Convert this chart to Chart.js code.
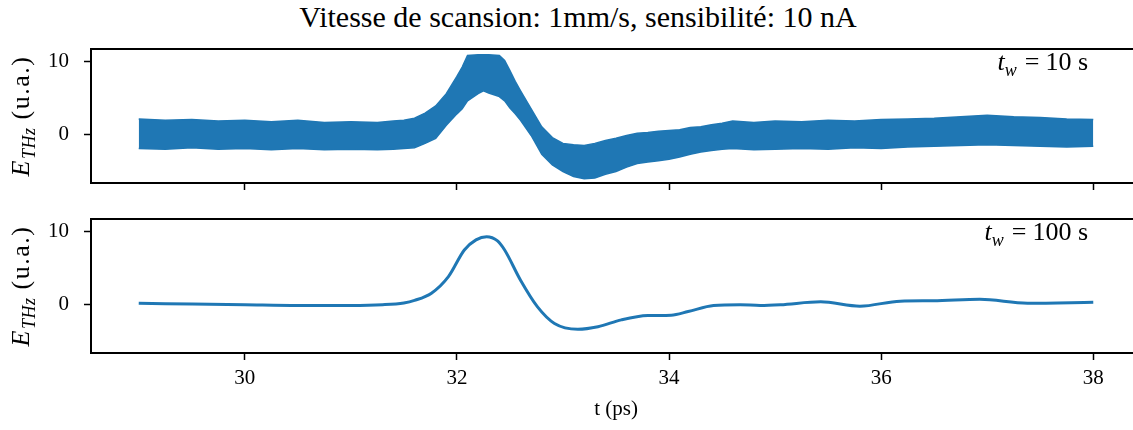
<!DOCTYPE html>
<html>
<head>
<meta charset="utf-8">
<script src="https://cdn.jsdelivr.net/npm/chart.js@4.4.0/dist/chart.umd.min.js"></script>
<style>
  html, body { margin: 0; padding: 0; background: #fff; }
  body { width: 1133px; height: 430px; overflow: hidden; position: relative;
         font-family: "Liberation Serif", "DejaVu Serif", serif; color: #000; }
  .panel { position: absolute; left: 0; }
  #title { position: absolute; left: 0; width: 1156px; top: 0px; text-align: center; font-size: 30px; white-space: nowrap; }
  .ylab { position: absolute; left: 23px; font-size: 26px; letter-spacing: 1.5px; white-space: nowrap;
          transform: translate(-50%, -50%) rotate(-90deg); }
  .ylab sub { font-size: 18px; letter-spacing: 0.5px; }
  .tw { position: absolute; right: 45px; font-size: 26px; white-space: nowrap; line-height: 1; }
  .tw sub { font-size: 18px; }
  .tw .eq { margin: 0 6px 0 8px; }
</style>
</head>
<body>
<div id="title">Vitesse de scansion: 1mm/s, sensibilité: 10 nA</div>

<div class="panel" style="top:40px"><canvas id="topChart" width="1160" height="150"></canvas></div>
<div class="panel" style="top:210px"><canvas id="bottomChart" width="1160" height="220"></canvas></div>

<div class="ylab" style="top:116px"><i>E</i><sub><i>THz</i></sub> (u.a.)</div>
<div class="ylab" style="top:286px"><i>E</i><sub><i>THz</i></sub> (u.a.)</div>
<div class="tw" style="top:49px"><i>t</i><sub><i>w</i></sub><span class="eq">=</span>10 s</div>
<div class="tw" style="top:219px"><i>t</i><sub><i>w</i></sub><span class="eq">=</span>100 s</div>

<script>
// ---- data ----
const timeTicks = [30, 32, 34, 36, 38];
const fieldTicks = [0, 10];

// t_w = 10 s : noisy trace, kept as its upper / lower envelope
const topTime  = [29.0, 29.25, 29.5, 29.75, 30.0, 30.25, 30.5, 30.75, 31.0, 31.25, 31.4, 31.5, 31.6, 31.7, 31.8, 31.9,
                  32.0, 32.05, 32.1, 32.2, 32.25, 32.3, 32.4, 32.45, 32.5, 32.55, 32.6, 32.7, 32.8, 32.9,
                  33.0, 33.1, 33.2, 33.3, 33.4, 33.5, 33.6, 33.7, 33.8, 33.9, 34.0, 34.1, 34.2, 34.3, 34.4, 34.5, 34.6,
                  34.8, 35.0, 35.25, 35.5, 35.75, 36.0, 36.25, 36.5, 36.75, 37.0, 37.25, 37.5, 37.75, 38.0];
const topUpper = [2.1, 1.9, 2.0, 1.8, 1.9, 1.7, 1.9, 1.6, 1.7, 1.6, 1.8, 1.9, 2.2, 2.9, 3.9, 5.6,
                  8.0, 9.3, 10.9, 11.0, 11.0, 11.0, 10.9, 10.2, 8.8, 7.3, 6.0, 3.5, 1.0, -0.5,
                  -1.3, -1.5, -1.6, -1.3, -0.9, -0.6, -0.2, 0.1, 0.2, 0.4, 0.5, 0.6, 0.9, 1.0, 1.3, 1.5, 1.8,
                  1.6, 1.8, 1.7, 1.9, 1.8, 2.0, 2.1, 2.2, 2.4, 2.6, 2.4, 2.3, 2.1, 2.0];
const topLower = [-2.0, -2.1, -1.9, -2.1, -2.0, -2.2, -2.0, -2.2, -2.1, -2.2, -2.1, -2.0, -1.9, -1.3, -0.6, 1.2,
                  2.8, 3.5, 4.6, 5.6, 6.0, 5.7, 5.2, 4.6, 3.6, 2.8, 1.9, -0.2, -2.8, -4.3,
                  -5.2, -5.9, -6.2, -6.1, -5.6, -5.2, -4.6, -4.1, -3.9, -3.7, -3.5, -3.2, -2.8, -2.5, -2.3, -2.1, -2.0,
                  -2.2, -2.1, -2.0, -2.1, -1.9, -2.0, -1.8, -1.7, -1.6, -1.5, -1.6, -1.7, -1.8, -1.7];

// t_w = 100 s : averaged trace
const bottomTime  = [29.0, 29.5, 30.0, 30.5, 31.0, 31.3, 31.5, 31.6, 31.76, 31.92, 32.07, 32.18, 32.28, 32.38, 32.45,
                     32.6, 32.76, 32.92, 33.14, 33.33, 33.55, 33.8, 34.02, 34.18, 34.42, 34.67, 34.86, 35.05,
                     35.43, 35.8, 36.18, 36.49, 36.93, 37.38, 38.0];
const bottomField = [0.1, 0.0, -0.1, -0.2, -0.2, -0.1, 0.15, 0.5, 1.5, 3.8, 7.5, 8.9, 9.35, 8.8, 7.5,
                     3.3, -0.4, -2.7, -3.5, -3.15, -2.2, -1.6, -1.55, -1.05, -0.2, -0.1, -0.2, -0.1,
                     0.3, -0.3, 0.4, 0.45, 0.65, 0.1, 0.25];

const BLUE = '#1f77b4';
const FONT = '"Liberation Serif", "DejaVu Serif", serif';

// box round the plot area (right edge falls outside the window, as in the reference)
const frame = {
  id: 'frame',
  afterDraw(chart) {
    const { ctx, chartArea: a } = chart;
    ctx.save();
    ctx.strokeStyle = '#000';
    ctx.lineWidth = 2;
    ctx.strokeRect(a.left, a.top, a.right - a.left, a.bottom - a.top);
    ctx.restore();
  }
};

function scales(showX) {
  return {
    x: {
      type: 'linear', min: 28.55, max: 38.45,
      afterBuildTicks: s => { s.ticks = timeTicks.map(v => ({ value: v })); },
      afterFit: s => { s.height = showX ? 77 : 7; s.paddingLeft = 0; s.paddingRight = 0; },
      border: { display: false },
      grid: { drawOnChartArea: false, drawTicks: true, tickLength: 7, tickWidth: 1.5, tickColor: '#000' },
      ticks: { display: showX, color: '#000', padding: 6, maxRotation: 0, font: { family: FONT, size: 21 } },
      title: { display: showX, text: 't (ps)', color: '#000', padding: { top: 0, bottom: 8 }, font: { family: FONT, size: 21 } }
    },
    y: {
      type: 'linear', min: -6.8, max: 11.8,
      afterBuildTicks: s => { s.ticks = fieldTicks.map(v => ({ value: v })); },
      afterFit: s => { s.width = 91; s.paddingTop = 0; s.paddingBottom = 0; },
      border: { display: false },
      grid: { drawOnChartArea: false, drawTicks: true, tickLength: 7, tickWidth: 1.5, tickColor: '#000' },
      ticks: { color: '#000', padding: 15, font: { family: FONT, size: 21 } }
    }
  };
}

const common = {
  responsive: false,
  animation: false,
  events: [],
  plugins: { legend: { display: false }, tooltip: { enabled: false } }
};

new Chart(document.getElementById('topChart'), {
  type: 'line',
  data: {
    datasets: [
      { data: topTime.map((t, i) => ({ x: t, y: topUpper[i] })), fill: '+1',
        backgroundColor: BLUE, borderColor: BLUE, borderWidth: 1.5, pointRadius: 0, tension: 0 },
      { data: topTime.map((t, i) => ({ x: t, y: topLower[i] })), fill: false,
        borderColor: BLUE, borderWidth: 1.5, pointRadius: 0, tension: 0 }
    ]
  },
  options: { ...common, layout: { padding: { top: 9, right: 19, left: 0, bottom: 0 } }, scales: scales(false) },
  plugins: [frame]
});

new Chart(document.getElementById('bottomChart'), {
  type: 'line',
  data: {
    datasets: [
      { data: bottomTime.map((t, i) => ({ x: t, y: bottomField[i] })), fill: false,
        borderColor: BLUE, borderWidth: 3, pointRadius: 0, cubicInterpolationMode: 'monotone' }
    ]
  },
  options: { ...common, layout: { padding: { top: 9, right: 19, left: 0, bottom: 0 } }, scales: scales(true) },
  plugins: [frame]
});
</script>
</body>
</html>
